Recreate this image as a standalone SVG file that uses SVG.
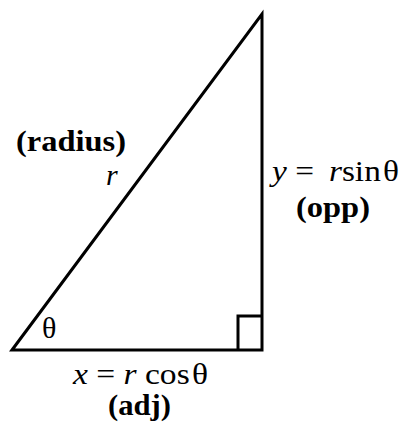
<svg xmlns="http://www.w3.org/2000/svg" width="401" height="424" viewBox="0 0 401 424">
<style>
text{font-family:'Liberation Serif','Times New Roman',Times,serif;fill:#000;font-size:30px}
.b{font-weight:bold}
.i{font-style:italic}
.e{fill:none;stroke:#000;stroke-width:3}
</style>
<rect width="401" height="424" fill="#fff"/>
<g id="connectors">
<polygon class="e" points="12,350 262,14 262,350" stroke-linejoin="miter"/>
<polyline class="e" points="238,350 238,316 262,316"/>
</g>
<g id="radius-label">
<text class="b" x="16" y="151" textLength="110" lengthAdjust="spacingAndGlyphs">(radius)</text>
<text class="i" x="106" y="185">r</text>
</g>
<g id="opp-label">
<text x="272" y="181" textLength="127" lengthAdjust="spacingAndGlyphs"><tspan class="i">y</tspan> = <tspan class="i" dx="6">r</tspan>sin<tspan dx="2">θ</tspan></text>
<text class="b" x="296" y="217" textLength="74" lengthAdjust="spacingAndGlyphs">(opp)</text>
</g>
<g id="angle-label">
<text x="42" y="338">θ</text>
</g>
<g id="adj-label">
<text x="73" y="384" textLength="135" lengthAdjust="spacingAndGlyphs"><tspan class="i">x</tspan> = <tspan class="i">r</tspan> cos<tspan dx="2">θ</tspan></text>
<text class="b" x="108" y="415" textLength="63" lengthAdjust="spacingAndGlyphs">(adj)</text>
</g>
</svg>
